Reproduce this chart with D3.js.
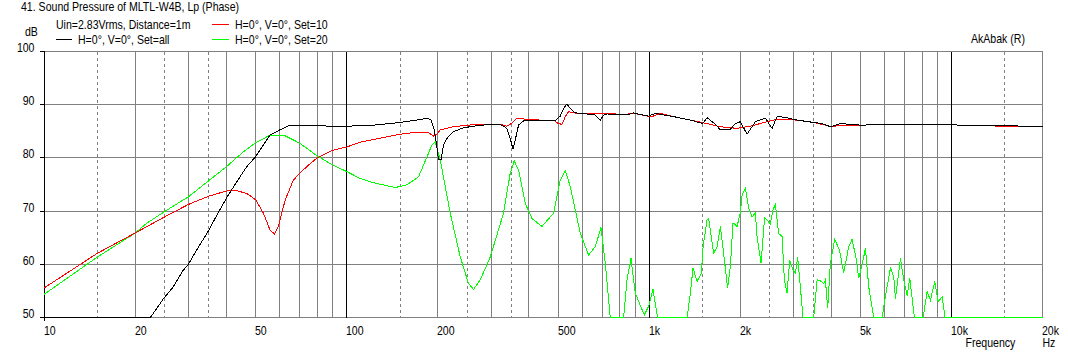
<!DOCTYPE html>
<html><head><meta charset="utf-8">
<script src="https://cdn.jsdelivr.net/npm/d3@7"></script>
<style>
html,body{margin:0;padding:0;background:#fff;}
svg{display:block;}
text{font-family:"Liberation Sans",Arial,sans-serif;font-size:12px;fill:#000;}
</style>
</head><body>
<svg id="c" width="1068" height="355"></svg>
<script>
// ---------- DATA ----------
const titleText = "41. Sound Pressure of MLTL-W4B, Lp (Phase)";
const conditionText = "Uin=2.83Vrms, Distance=1m";
const seriesNames = ["H=0°, V=0°, Set=all", "H=0°, V=0°, Set=10", "H=0°, V=0°, Set=20"];
const seriesColors = ["#000000", "#ff0000", "#00ff00"];

const xTickValues = [10, 20, 50, 100, 200, 500, 1000, 2000, 5000, 10000, 20000];
const xTickLabels = ["10", "20", "50", "100", "200", "500", "1k", "2k", "5k", "10k", "20k"];
const yTickValues = [50, 60, 70, 80, 90, 100];
const yTickLabels = ["50", "60", "70", "80", "90", "100"];

const blackFreq = [10,22.4,24.8,26.7,28.8,30,31.9,35,37.2,40,43.3,46.7,50,53,55.8,60,65,70,80,87,100,110.7,122.6,150,170.6,184.9,189.8,194.6,198.6,201.1,205.3,208.9,214.3,225.4,243.2,276.3,321.7,338.5,347.2,354.4,360.6,369.8,384.1,436.3,489.2,508.1,521.2,534.9,548.3,569.5,622.6,663.3,689,706.8,725.4,844.6,884,934.6,995,1047.6,1204,1368,1502,1553,1655,1719,1855,1927,2001,2106,2244,2422,2548,2647,2783,3083,3499,3729,3972,4288,4993,6275,9182,11835,15262,20000];
const blackDb = [50,50,53.6,55.8,58.9,60.05,62.7,66.4,69.25,72.4,75.5,78.3,80.2,82.4,84.25,85.2,86.1,86.1,86.1,85.9,85.9,86.0,86.1,86.6,87.05,87.4,87.05,85.2,82.05,79.6,79.7,82.4,83.6,84.9,85.6,86.1,86.25,85.5,83.6,81.6,83.3,86.1,86.9,87.05,86.9,87.8,89.25,90.05,89.25,88.4,88.2,88.0,87.05,88.0,88.2,88.0,88.4,88.1,87.8,88.3,87.7,87.05,86.4,87.5,86.25,85.2,85.3,86.4,86.75,84.4,86.75,87.4,85.5,87.7,87.6,87.05,86.6,86.4,85.8,86.4,86.1,86.25,86.25,86.0,86.0,85.8];

const redFreq = [10,15,20,25,30,35,40,43.3,46.7,50,53,55.8,57.7,59.4,62.6,66.6,70,74.7,80,90,100,110.7,150,166,186,193.6,200,203.7,225,250,283,322,338,350,365,394,436,483,501,515,528,541,592,689,716,823,888,983,1021,1088,1204,1368,1553,1719,1952,2160,2453,2647,3083,3499,3972,4993,6275,9182,11835,20000];
const redDb = [55.6,62.1,65.9,68.9,71.25,72.8,73.75,73.8,73.3,72.1,69.6,66.4,65.7,67.1,72.1,75.8,77.1,78.6,80.0,81.4,82.0,82.9,84.4,84.7,84.7,84.05,84.55,85.2,85.8,86.1,86.25,86.25,85.9,86.4,87.4,87.2,87.05,87.05,86.4,86.25,87.7,88.6,88.2,88.2,88.3,88.1,88.3,87.8,87.7,88.3,87.7,87.05,86.4,85.8,85.5,85.9,86.75,87.2,87.05,86.6,85.9,86.1,86.25,86.25,86.0,85.8];

const greenFreq = [10,15,20,21.8,25,30,35,40,45.5,50,54.4,55.8,61.8,70,80,90,100,110.7,122.6,144.6,158.1,172.7,186.3,191.2,196.1,203.7,219.9,237.3,252.7,262.5,276.3,298.2,329.9,347.2,357.9,369.8,389.2,409.6,442,482.9,508.1,527.8,548.3,591.8,630.3,663.3,692.7,715.7,743.4,823,844.6,870.7,899.6,963.4,995,1029.5,1066,1334,1368,1396,1439,1487,1507,1553,1572,1633,1676,1719,1762,1817,1855,1893,1952,2001,2028,2080,2133,2189,2244,2273,2343,2408,2515,2567,2613,2679,2750,2799,2857,2914,2991,3044,3097,3145,3227,3499,3590,3681,3775,3824,3892,3972,4105,4255,4397,4567,4686,4843,4929,5058,5188,5319,5525,5890,6039,6275,6434,6518,6771,6944,7126,7268,7532,8046,8297,8508,8794,9024,9302,9468,9491,20000];
const greenDb = [54.4,61.4,65.9,67.7,69.9,72.7,75.7,78.3,81.1,82.8,83.9,84.25,84.25,82.7,80.3,78.6,77.4,76.1,75.3,74.4,74.9,76.4,80.8,82.4,83.0,79.6,69.6,61.4,56.4,55.3,57.1,61.4,69.6,77.1,79.4,77.7,71.4,68.6,67.1,69.6,75.8,77.6,74.6,65.8,61.75,63.3,66.9,60.2,50,50,57.1,61.1,54.6,50.5,52.1,55.3,50,50,54.6,59.3,56.8,58.3,63.3,68.3,68.6,62.1,63.3,67.1,62.1,55.5,59.6,67.8,67.1,69.6,73.0,74.25,70.5,68.9,69.7,65.2,60.2,68.8,67.6,70.2,71.25,65.8,65.2,57.1,54.6,60.8,58.95,58.3,61.4,57.1,50,50,57.1,56.9,56.4,57.1,51.8,60.2,64.7,62.7,58.4,63.3,64.7,60.8,57.4,59.9,63.0,55.8,50,50,54.0,59.3,57.7,53.6,61.1,57.1,54.1,57.4,50,50,54.9,53.3,56.8,53.0,53.95,50.8,50,50];

// ---------- DRAW ----------
const svg = d3.select("#c");
const x = d3.scaleLog().domain([10, 20000]).range([44.3, 1042.7]);
const y = d3.scaleLinear().domain([50, 100]).range([317.7, 51]).clamp(true);
const px = v => Math.floor(x(v)) + 0.5;
const py = v => Math.floor(y(v)) + 0.5;
const GRAY = "#808080";

function txt(xp, yp, s, anchor) {
  svg.append("text")
    .attr("transform", `translate(${xp},${yp}) scale(0.88,1)`)
    .attr("text-anchor", anchor || "start")
    .text(s);
}

const grid = svg.append("g").attr("shape-rendering", "crispEdges");
// vertical grid
const decades = [10, 100, 1000, 10000];
decades.forEach(d => {
  [1.5, 2.5, 3.5].forEach(m => {
    const f = m * d;
    if (f <= 20000) grid.append("line").attr("x1", px(f)).attr("x2", px(f))
      .attr("y1", py(100)).attr("y2", py(50)).attr("stroke", GRAY).attr("stroke-dasharray", "3,3");
  });
  for (let m = 2; m <= 9; m++) {
    const f = m * d;
    if (f <= 20000) grid.append("line").attr("x1", px(f)).attr("x2", px(f))
      .attr("y1", py(100)).attr("y2", py(50)).attr("stroke", GRAY);
  }
});
// horizontal grid
yTickValues.forEach(v => {
  grid.append("line").attr("x1", px(10)).attr("x2", px(20000))
    .attr("y1", py(v)).attr("y2", py(v)).attr("stroke", GRAY);
});
// decade lines (black)
decades.forEach(d => {
  grid.append("line").attr("x1", px(d)).attr("x2", px(d))
    .attr("y1", py(100)).attr("y2", py(50)).attr("stroke", "#000");
});
// left ticks
yTickValues.forEach(v => {
  grid.append("line").attr("x1", px(10) - 5).attr("x2", px(10))
    .attr("y1", py(v)).attr("y2", py(v)).attr("stroke", "#000");
});
grid.append("line").attr("x1", px(10)).attr("x2", px(10))
  .attr("y1", py(50)).attr("y2", py(50) + 3).attr("stroke", "#000");

// curves
const line = d3.line().x(d => x(d[0])).y(d => y(d[1]));
const series = [
  [greenFreq, greenDb, seriesColors[2]],
  [redFreq, redDb, seriesColors[1]],
  [blackFreq, blackDb, seriesColors[0]]
];
series.forEach(([fs, ds, col]) => {
  svg.append("path")
    .datum(fs.map((f, i) => [f, ds[i]]))
    .attr("d", line)
    .attr("fill", "none")
    .attr("stroke", col)
    .attr("stroke-width", 1)
    .attr("shape-rendering", "crispEdges");
});

// axis labels
yTickValues.forEach((v, i) => txt(34.5, Math.floor(y(v)) + 0.5, yTickLabels[i], "end"));
xTickValues.forEach((v, i) => txt(Math.floor(x(v)), 334.5, xTickLabels[i], "start"));
txt(25, 36, "dB");
txt(965.5, 347, "Frequency");
txt(1042.5, 347, "Hz");
txt(971, 42.5, "AkAbak (R)");

// title & legend
txt(21, 11, titleText);
txt(56, 28.5, conditionText);
const leg = svg.append("g").attr("shape-rendering", "crispEdges");
leg.append("line").attr("x1", 212).attr("x2", 229).attr("y1", 24.5).attr("y2", 24.5).attr("stroke", seriesColors[1]);
txt(235, 28.5, seriesNames[1]);
leg.append("line").attr("x1", 56).attr("x2", 72).attr("y1", 39.5).attr("y2", 39.5).attr("stroke", seriesColors[0]);
txt(78, 43.5, seriesNames[0]);
leg.append("line").attr("x1", 212).attr("x2", 229).attr("y1", 39.5).attr("y2", 39.5).attr("stroke", seriesColors[2]);
txt(235, 43.5, seriesNames[2]);
</script>
</body></html>
